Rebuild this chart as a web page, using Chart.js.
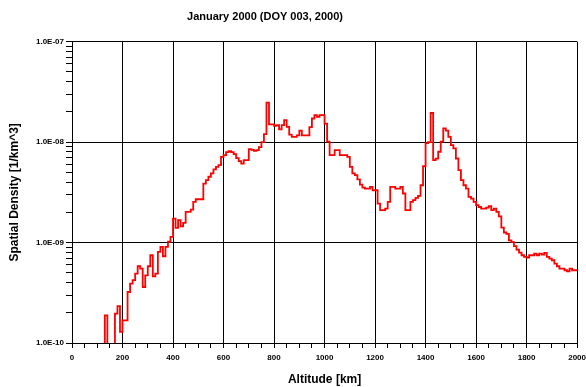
<!DOCTYPE html>
<html><head><meta charset="utf-8">
<script src="https://cdn.jsdelivr.net/npm/chart.js@4.4.1/dist/chart.umd.min.js"></script>
<style>html,body{margin:0;padding:0;background:#fff;overflow:hidden}#wrap{width:586px;height:387px;position:relative;overflow:hidden}</style>
</head><body><div id="wrap"><canvas id="c" width="591" height="387"></canvas></div>
<script>
// Bin start altitudes [km] (10 km bins)
const altitudes = [
  0,10,20,30,40,50,60,70,80,90,
  100,110,120,130,140,150,160,170,180,190,
  200,210,220,230,240,250,260,270,280,290,
  300,310,320,330,340,350,360,370,380,390,
  400,410,420,430,440,450,460,470,480,490,
  500,510,520,530,540,550,560,570,580,590,
  600,610,620,630,640,650,660,670,680,690,
  700,710,720,730,740,750,760,770,780,790,
  800,810,820,830,840,850,860,870,880,890,
  900,910,920,930,940,950,960,970,980,990,
  1000,1010,1020,1030,1040,1050,1060,1070,1080,1090,
  1100,1110,1120,1130,1140,1150,1160,1170,1180,1190,
  1200,1210,1220,1230,1240,1250,1260,1270,1280,1290,
  1300,1310,1320,1330,1340,1350,1360,1370,1380,1390,
  1400,1410,1420,1430,1440,1450,1460,1470,1480,1490,
  1500,1510,1520,1530,1540,1550,1560,1570,1580,1590,
  1600,1610,1620,1630,1640,1650,1660,1670,1680,1690,
  1700,1710,1720,1730,1740,1750,1760,1770,1780,1790,
  1800,1810,1820,1830,1840,1850,1860,1870,1880,1890,
  1900,1910,1920,1930,1940,1950,1960,1970,1980,1990
];
// Spatial density [1/km^3] per bin (values below 1e-10 fall off the axis)
const densities = [
  5e-11,5e-11,5e-11,5e-11,5e-11,5e-11,5e-11,5e-11,5e-11,5e-11,
  5e-11,5e-11,5e-11,1.88e-10,5e-11,5e-11,5e-11,1.96e-10,2.33e-10,1.29e-10,
  1.68e-10,1.68e-10,3.22e-10,3.90e-10,4.22e-10,4.91e-10,5.81e-10,5.51e-10,3.61e-10,4.72e-10,
  5.81e-10,7.48e-10,4.61e-10,4.91e-10,8.07e-10,9.06e-10,7.31e-10,9.06e-10,1.02e-9,1.14e-9,
  1.73e-9,1.40e-9,1.67e-9,1.45e-9,1.57e-9,2.02e-9,2.02e-9,2.13e-9,2.54e-9,2.70e-9,
  2.70e-9,2.70e-9,3.87e-9,4.19e-9,4.52e-9,4.88e-9,5.35e-9,5.68e-9,5.90e-9,7.14e-9,
  7.43e-9,7.94e-9,8.13e-9,7.94e-9,7.59e-9,6.92e-9,6.46e-9,6.10e-9,6.61e-9,6.61e-9,
  8.51e-9,8.36e-9,8.20e-9,8.32e-9,8.91e-9,1.00e-8,1.20e-8,2.47e-8,1.50e-8,1.50e-8,
  1.45e-8,1.48e-8,1.34e-8,1.48e-8,1.66e-8,1.42e-8,1.19e-8,1.13e-8,1.13e-8,1.17e-8,
  1.30e-8,1.17e-8,1.17e-8,1.17e-8,1.41e-8,1.72e-8,1.86e-8,1.79e-8,1.86e-8,1.86e-8,
  1.53e-8,1.01e-8,7.41e-9,7.41e-9,8.32e-9,8.32e-9,7.41e-9,7.41e-9,7.41e-9,7.14e-9,
  5.68e-9,4.88e-9,4.69e-9,4.25e-9,3.78e-9,3.53e-9,3.45e-9,3.45e-9,3.59e-9,3.32e-9,
  3.32e-9,2.44e-9,2.10e-9,2.10e-9,2.18e-9,2.54e-9,3.59e-9,3.59e-9,3.45e-9,3.45e-9,
  3.59e-9,3.08e-9,2.10e-9,2.10e-9,2.54e-9,2.64e-9,2.79e-9,2.92e-9,3.72e-9,5.75e-9,
  9.77e-9,1.00e-8,1.95e-8,6.61e-9,6.84e-9,8.02e-9,1.01e-8,1.37e-8,1.30e-8,1.13e-8,
  9.33e-9,8.65e-9,6.87e-9,5.26e-9,4.18e-9,3.72e-9,3.45e-9,2.85e-9,2.74e-9,2.54e-9,
  2.36e-9,2.26e-9,2.18e-9,2.18e-9,2.23e-9,2.30e-9,2.10e-9,2.18e-9,2.02e-9,1.82e-9,
  1.41e-9,1.26e-9,1.22e-9,1.05e-9,1.01e-9,9.23e-10,8.51e-10,7.94e-10,7.48e-10,7.19e-10,
  7.08e-10,7.48e-10,7.48e-10,7.76e-10,7.48e-10,7.76e-10,7.59e-10,7.89e-10,7.19e-10,6.92e-10,
  6.67e-10,6.17e-10,5.81e-10,5.51e-10,5.51e-10,5.30e-10,5.18e-10,5.51e-10,5.30e-10,5.30e-10
];
const binEnd = 2000;
const xMajorTicks = [0,200,400,600,800,1000,1200,1400,1600,1800,2000];
const xMinorStep = 50;
const yDecadeTicks = [1e-10,1e-9,1e-8,1e-7];
const yMinorMultipliers = [2,3,4,5,6,7,8,9];

const points = altitudes.map((a,i)=>({x:a,y:densities[i]}));
points.push({x:binEnd,y:densities[densities.length-1]});

function isDecade(v){const l=Math.log10(v);return Math.abs(l-Math.round(l))<1e-6;}
function fmtDecade(v){const e=Math.round(Math.log10(v));return '1.0E'+(e<0?'-':'+')+String(Math.abs(e)).padStart(2,'0');}
function isXMajor(v){return xMajorTicks.some(t=>Math.abs(t-v)<1e-6);}

const FONT="'Liberation Sans', Arial, Helvetica, sans-serif";
Chart.defaults.font.family=FONT;

const titleShift={id:'titleShift',afterLayout(chart){const t=chart.titleBlock;if(t){t.left=0;t.right=530;}}};

new Chart(document.getElementById('c'),{
  type:'line',
  data:{datasets:[{data:points,borderColor:'#ff0000',borderWidth:1.8,pointRadius:0,stepped:'before',fill:false,tension:0}]},
  plugins:[titleShift],
  options:{
    responsive:false,animation:false,devicePixelRatio:1,
    layout:{padding:0},
    plugins:{
      legend:{display:false},tooltip:{enabled:false},
      title:{display:true,text:'January 2000 (DOY 003, 2000)',color:'#000',font:{size:11,weight:'bold',family:FONT},padding:{top:10,bottom:18.5}}
    },
    scales:{
      x:{type:'linear',min:0,max:binEnd,
        afterBuildTicks(s){const t=[];for(let v=0;v<=binEnd;v+=xMinorStep)t.push({value:v});s.ticks=t;},
        afterFit(s){s.height=44;},
        ticks:{autoSkip:false,maxRotation:0,color:'#000',padding:5,font:{size:8,weight:'bold'},callback:v=>isXMajor(v)?String(v):''},
        grid:{color:c=>(c.tick&&isXMajor(c.tick.value))?'#000':'rgba(0,0,0,0)',tickColor:'#000',tickLength:5,lineWidth:1},
        border:{color:'#000',width:1},
        title:{display:true,text:'Altitude [km]',color:'#000',font:{size:12,weight:'bold'},padding:{top:0,bottom:0}}
      },
      y:{type:'logarithmic',min:1e-10,max:1e-7,
        afterBuildTicks(s){const t=[];yDecadeTicks.forEach((d,i)=>{t.push({value:d});if(i<yDecadeTicks.length-1)yMinorMultipliers.forEach(m=>t.push({value:d*m}));});s.ticks=t;},
        afterFit(s){s.width=72;},
        ticks:{autoSkip:false,color:'#000',padding:2,font:{size:8,weight:'bold'},callback:v=>isDecade(v)?fmtDecade(v):''},
        grid:{color:c=>(c.tick&&isDecade(c.tick.value))?'#000':'rgba(0,0,0,0)',tickColor:'#000',tickLength:6,lineWidth:1},
        border:{color:'#000',width:1},
        title:{display:true,text:'Spatial Density [1/km^3]',color:'#000',font:{size:12,weight:'bold'},padding:{top:7,bottom:0}}
      }
    }
  }
});
</script></body></html>
